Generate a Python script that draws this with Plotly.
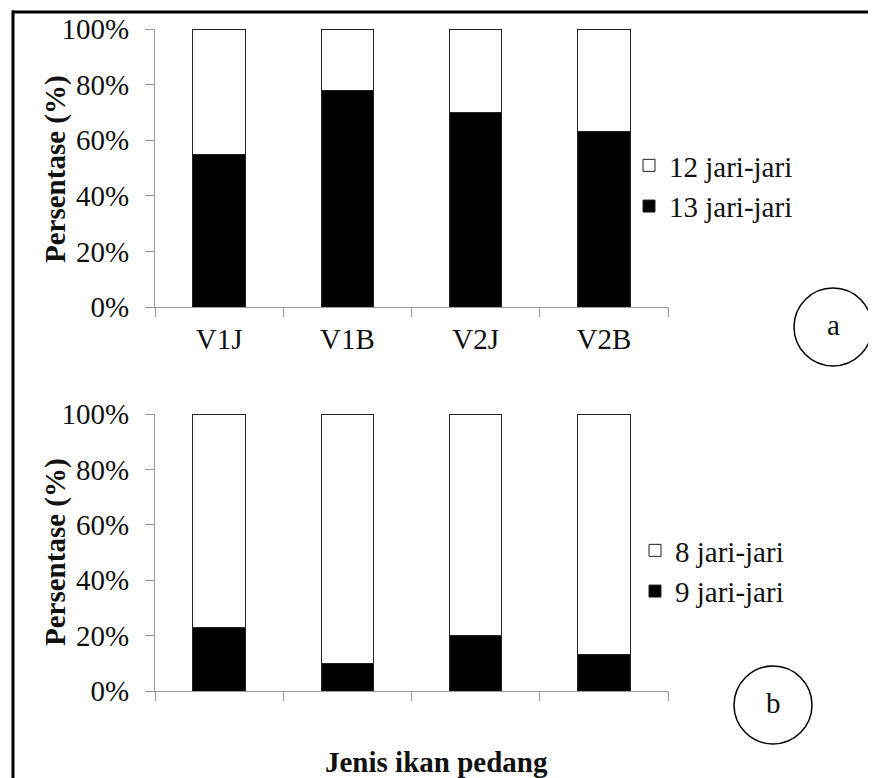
import plotly.graph_objects as go

categories = ["V1J", "V1B", "V2J", "V2B"]
# Panel a: fraction of fish with 13 / 12 jari-jari
a_13 = [0.55, 0.78, 0.70, 0.63]
a_12 = [0.45, 0.22, 0.30, 0.37]
# Panel b: fraction with 9 / 8 jari-jari
b_9 = [0.23, 0.10, 0.20, 0.13]
b_8 = [0.77, 0.90, 0.80, 0.87]
y_ticks = [0, 0.2, 0.4, 0.6, 0.8, 1.0]
y_ticktext = ["0%", "20%", "40%", "60%", "80%", "100%"]

W, H = 876, 778
OFF = 8  # page body margin
FONT = "Liberation Serif, Times New Roman, serif"
FS = 29


def px(x):
    return (x - OFF) / W


def py(y):
    return 1 - (y - OFF) / H


fig = go.Figure()
line = dict(color="#222", width=1)
fig.add_trace(go.Bar(x=categories, y=a_13, name="13 jari-jari", marker=dict(color="black", line=line),
                     xaxis="x", yaxis="y", legend="legend"))
fig.add_trace(go.Bar(x=categories, y=a_12, name="12 jari-jari", marker=dict(color="white", line=line),
                     xaxis="x", yaxis="y", legend="legend"))
fig.add_trace(go.Bar(x=categories, y=b_9, name="9 jari-jari", marker=dict(color="black", line=line),
                     xaxis="x2", yaxis="y2", legend="legend2"))
fig.add_trace(go.Bar(x=categories, y=b_8, name="8 jari-jari", marker=dict(color="white", line=line),
                     xaxis="x2", yaxis="y2", legend="legend2"))

axcol = "#999"
tf = dict(family=FONT, size=FS, color="#111")
xcommon = dict(domain=[px(155), px(668)], range=[-0.5, 3.5], showline=True, linecolor=axcol, linewidth=1,
               ticks="outside", tickson="boundaries", ticklen=9, tickcolor=axcol, showgrid=False,
               zeroline=False, tickfont=tf, categoryorder="array", categoryarray=categories)
ycommon = dict(range=[0, 1], tickvals=y_ticks, ticktext=y_ticktext, showline=True, linecolor=axcol,
               linewidth=1, ticks="outside", ticklen=9, tickcolor=axcol, showgrid=False, zeroline=False,
               tickfont=tf, ticklabelstandoff=10)

fig.update_layout(
    width=W, height=H, margin=dict(l=0, r=0, t=0, b=0, autoexpand=False),
    paper_bgcolor="white", plot_bgcolor="white",
    barmode="stack", bargap=0.59,
    font=dict(family=FONT, size=FS, color="#111"),
    xaxis=dict(**xcommon, anchor="y", ticklabelstandoff=6),
    yaxis=dict(**ycommon, domain=[py(307), py(29)], anchor="x"),
    xaxis2=dict(**xcommon, anchor="y2", showticklabels=False),
    yaxis2=dict(**ycommon, domain=[py(691), py(414)], anchor="x2"),
    legend=dict(x=px(629), y=py(186), xanchor="left", yanchor="middle", traceorder="reversed",
                font=tf, bgcolor="rgba(0,0,0,0)", itemwidth=30, tracegroupgap=0),
    legend2=dict(x=px(635), y=py(571), xanchor="left", yanchor="middle", traceorder="reversed",
                 font=tf, bgcolor="rgba(0,0,0,0)", itemwidth=30, tracegroupgap=0),
    showlegend=True,
)


def ann(text, x, y, size=FS, angle=0):
    return dict(text=text, x=px(x), y=py(y), xref="paper", yref="paper", xanchor="center",
                yanchor="middle", textangle=angle, showarrow=False,
                font=dict(family=FONT, size=size, color="#111"))


annotations = [
    ann("<b>Persentase (%)</b>", 55, 169, angle=-90),
    ann("<b>Persentase (%)</b>", 55, 552, angle=-90),
    ann("<b>Jenis ikan pedang</b>", 436, 762),
    ann("a", 833, 325),
    ann("b", 773, 703),
]
fig.update_layout(annotations=annotations)

shapes = [
    dict(type="circle", xref="paper", yref="paper", x0=px(794), x1=px(872), y0=py(366), y1=py(288),
         line=dict(color="black", width=1.5)),
    dict(type="circle", xref="paper", yref="paper", x0=px(734), x1=px(812), y0=py(744), y1=py(666),
         line=dict(color="black", width=1.5)),
    dict(type="line", xref="paper", yref="paper", x0=px(12), x1=px(890), y0=py(12), y1=py(12),
         line=dict(color="black", width=3)),
    dict(type="line", xref="paper", yref="paper", x0=px(13), x1=px(13), y0=py(10.5), y1=py(800),
         line=dict(color="black", width=3)),
]
fig.update_layout(shapes=shapes)

fig.write_html("out.html")
